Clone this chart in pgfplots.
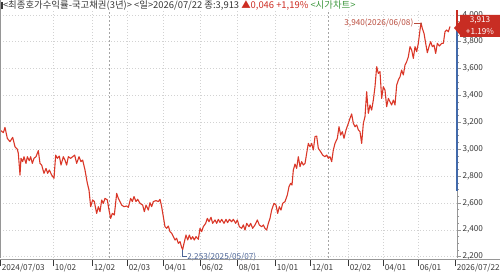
\documentclass[border=0pt]{standalone}
\usepackage{fontspec}
\setmainfont{Noto Sans CJK KR}
\usepackage{pgfplots}
\pgfplotsset{compat=1.18}
\definecolor{linered}{RGB}{218,55,40}
\definecolor{boxred}{RGB}{200,45,35}
\definecolor{annred}{RGB}{185,75,60}
\definecolor{annblue}{RGB}{75,100,150}
\definecolor{axblue}{RGB}{65,105,170}
\definecolor{gridgray}{RGB}{210,210,210}
\definecolor{yeargray}{RGB}{165,165,165}
\definecolor{txtgray}{RGB}{55,55,55}
\definecolor{axgray}{RGB}{150,150,150}
\definecolor{titlegreen}{RGB}{60,150,60}
\definecolor{titlered}{RGB}{205,45,35}
\newcommand{\xt}[1]{\vrule height 11pt depth -4pt\hspace{1.2pt}#1}
\begin{document}
\begin{tikzpicture}
\begin{axis}[at={(0pt,20pt)}, anchor=south west,
  width=457pt, height=248pt, scale only axis,
  xmin=0, xmax=1371, ymin=2190, ymax=4036, clip=false,
  axis line style={draw=none},
  /pgf/number format/assume math mode=true,
  /pgf/number format/1000 sep={,},
  scaled y ticks=false,
  ytick={2200,2400,...,4000},
  minor y tick num=3,
  ytick pos=right, yticklabel pos=right, ytick align=outside,
  major tick length=3.5pt, minor tick length=2pt,
  y tick style={axgray, line width=0.5pt},
  xtick={0,159,276,381,489,600,711,825,930,1044,1149,1254},
  xticklabels={\xt{2024/07/03},\xt{10/02},\xt{12/02},\xt{02/03},\xt{04/01},\xt{06/02},\xt{08/01},\xt{10/01},\xt{12/01},\xt{02/02},\xt{04/01},\xt{06/01}},
  extra x ticks={1365}, extra x tick labels={\xt{2026/07/22}},
  extra x tick style={grid=none},
  x tick style={draw=none},
  xtick pos=bottom,
  xticklabel style={anchor=north west, inner sep=0pt, yshift=-1pt, xshift=0pt},
  tick label style={font=\fontsize{8.2}{9}\selectfont, text=txtgray},
  yticklabel style={xshift=-1.5pt},
  grid=major,
  grid style={gridgray, dash pattern=on 1.2pt off 1.8pt, line width=0.5pt},
]
\draw[yeargray, dash pattern=on 2pt off 2pt, line width=0.5pt] (axis cs:327,2190) -- (axis cs:327,4036);
\draw[yeargray, dash pattern=on 2pt off 2pt, line width=0.5pt] (axis cs:984,2190) -- (axis cs:984,4036);
\addplot[linered, line width=1.1pt, line join=round] table {
x y
0 3143
10 3123
15 3162
22 3080
30 3056
38 3088
45 3018
52 2999
55 2969
60 2808
63 2932
68 2907
72 2944
78 2894
82 2944
88 2914
92 2944
97 2894
102 2932
108 2944
115 2989
120 2894
125 2882
132 2820
138 2857
143 2820
148 2845
155 2808
162 2783
167 2956
172 2932
178 2949
183 2882
190 2944
195 2919
200 2882
205 2944
212 2932
218 2944
224 2956
230 2894
237 2944
243 2907
248 2919
255 2845
262 2746
267 2696
272 2572
278 2622
283 2610
290 2522
295 2572
300 2535
305 2622
310 2597
315 2634
322 2622
327 2547
332 2485
337 2522
343 2510
350 2671
355 2634
360 2610
365 2584
372 2572
380 2577
385 2567
392 2634
397 2610
402 2647
408 2610
413 2627
420 2597
428 2584
433 2535
438 2584
445 2547
450 2602
455 2572
460 2610
468 2617
475 2610
480 2627
485 2572
490 2497
495 2423
500 2411
505 2428
510 2386
515 2374
520 2349
525 2324
530 2337
535 2299
540 2312
545 2269
548 2253
552 2299
558 2361
563 2324
568 2361
573 2329
578 2349
583 2324
588 2349
595 2329
600 2411
605 2386
610 2423
617 2448
622 2485
627 2460
633 2493
638 2448
645 2473
650 2448
655 2478
660 2455
665 2478
672 2448
678 2478
683 2453
688 2478
695 2460
700 2478
707 2448
712 2473
718 2423
725 2411
730 2436
735 2398
740 2448
747 2423
752 2448
758 2411
765 2436
772 2473
778 2436
785 2423
790 2436
795 2411
800 2398
805 2448
810 2485
815 2547
822 2597
828 2584
833 2522
838 2572
843 2547
848 2597
855 2610
862 2659
867 2721
872 2746
876 2733
880 2845
885 2889
890 2857
895 2944
900 2870
905 2907
910 2882
915 2894
920 2969
925 3043
930 3018
935 3043
940 2994
945 3093
950 3098
955 3006
962 2981
968 2956
975 2944
980 2956
985 2932
990 2944
995 2907
1000 2994
1005 3043
1012 3081
1017 3167
1022 3105
1027 3130
1032 3081
1038 3143
1045 3192
1050 3229
1055 3262
1060 3192
1065 3167
1070 3180
1075 3143
1080 3130
1085 3043
1090 3192
1095 3242
1100 3428
1105 3267
1110 3329
1115 3291
1120 3366
1125 3465
1130 3614
1135 3564
1140 3577
1145 3378
1150 3465
1155 3440
1160 3316
1165 3378
1170 3353
1175 3329
1180 3366
1185 3329
1190 3477
1195 3515
1200 3539
1205 3589
1210 3552
1215 3626
1220 3651
1225 3688
1230 3763
1235 3738
1240 3676
1245 3763
1250 3726
1255 3788
1260 3887
1263 3940
1267 3899
1272 3862
1277 3788
1282 3718
1287 3763
1292 3800
1297 3763
1302 3775
1307 3713
1312 3788
1318 3768
1325 3788
1330 3788
1335 3874
1340 3887
1345 3874
1350 3913
};
% right axis line segments
\draw[axgray, line width=0.6pt] (axis cs:1371,2190) -- (axis cs:1371,2690);
\draw[axblue, line width=1.6pt] (axis cs:1371,2690) -- (axis cs:1371,3913);
\draw[boxred, line width=1.6pt] (axis cs:1371,3913) -- (axis cs:1371,4036);
% annotations
\draw[annred, line width=0.5pt] (axis cs:1242,3940) -- (axis cs:1265,3940) -- (axis cs:1265,3925);
\node[annred, anchor=east, inner sep=0.5pt, font=\fontsize{8.2}{9}\selectfont] at (axis cs:1242,3940) {3,940(2026/06/08)};
\draw[annblue, line width=0.5pt] (axis cs:548,2250) -- (axis cs:548,2200) -- (axis cs:560,2200);
\node[annblue, anchor=west, inner sep=0.5pt, font=\fontsize{8.2}{9}\selectfont] at (axis cs:560,2200) {2,253(2025/05/07)};
\end{axis}
% frame lines
\draw[axgray, line width=0.6pt] (0pt,20pt) -- (0pt,278pt);
\draw[axgray, line width=0.6pt] (0pt,19pt) -- (500pt,19pt);
% title
\node[anchor=west, inner sep=0pt, font=\fontsize{9.4}{10}\selectfont] at (1pt,272.5pt)
 {{\color{txtgray}\rule[-0.8pt]{1.8pt}{7.5pt}<최종호가수익률-국고채권(3년)> <일>2026/07/22 종:3,913 }{\color{titlered}▲0,046 +1,19\%} {\color{titlegreen}<시가차트>}};
% value box
\fill[boxred] (454pt,250pt) -- (460pt,257pt) -- (460pt,263pt) -- (500pt,263pt) -- (500pt,241pt) -- (460pt,241pt) -- (460pt,243pt) -- cycle;
\node[white, inner sep=0pt, font=\fontsize{8.2}{9}\selectfont] at (480pt,257.5pt) {3,913};
\node[white, inner sep=0pt, font=\fontsize{8.2}{9}\selectfont] at (480pt,246.5pt) {+1.19\%};
\pgfresetboundingbox
\path (0pt,0pt) rectangle (500pt,278pt);
\end{tikzpicture}
\end{document}
